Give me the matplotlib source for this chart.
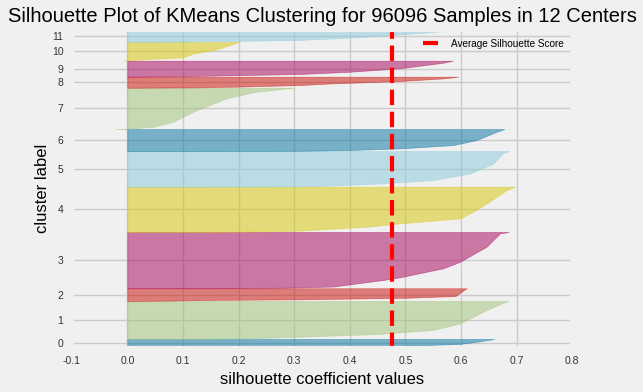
import numpy as np
import matplotlib.pyplot as plt

plt.style.use('fivethirtyeight')
plt.rcParams['font.family'] = 'sans-serif'
plt.rcParams['font.sans-serif'] = ['Liberation Sans', 'DejaVu Sans']

# data
n_samples = 96096
n_centers = 12
avg_score = 0.476
cluster_sizes = [2630, 11500, 3840, 17030, 13700, 10800,
                 6650, 12500, 3330, 4840, 5650, 3626]
palette = ["#0272a2", "#9fc377", "#ca0b03", "#a50258", "#d7c703", "#88cada"]

# sorted silhouette profile of each cluster:
# position in the band (0 = bottom, 1 = top) and the score there
fracs = [
    [0, 0.04, 0.1, 0.2, 0.43, 0.7, 0.9, 1],
    [0, 0.02, 0.06, 0.13, 0.24, 0.41, 0.76, 0.94, 1],
    [0, 0.03, 0.08, 0.13, 0.25, 0.39, 0.7, 1],
    [0, 0.01, 0.03, 0.147, 0.195, 0.355, 0.47, 0.74, 0.976, 1],
    [0, 0.01, 0.03, 0.117, 0.19, 0.30, 0.45, 0.63, 0.927, 1],
    [0, 0.005, 0.02, 0.095, 0.19, 0.37, 0.65, 0.95, 1],
    [0, 0.01, 0.045, 0.12, 0.27, 0.5, 0.88, 1],
    [0, 0.01, 0.055, 0.18, 0.3, 0.46, 0.62, 0.75, 0.9, 1],
    [0, 0.03, 0.1, 0.245, 0.40, 0.61, 0.85, 1],
    [0, 0.03, 0.1, 0.17, 0.31, 0.525, 0.875, 1],
    [0, 0.07, 0.18, 0.39, 0.57, 0.7, 0.9, 1],
    [0, 0.03, 0.08, 0.17, 0.44, 0.8, 1],
]
scores = [
    [0.0, 0.2, 0.38, 0.49, 0.598, 0.63, 0.65, 0.66],
    [0.1, 0.22, 0.31, 0.449, 0.55, 0.598, 0.646, 0.673, 0.685],
    [0.0, 0.08, 0.15, 0.31, 0.5, 0.59, 0.6, 0.61],
    [0.15, 0.28, 0.37, 0.46, 0.49, 0.568, 0.598, 0.646, 0.67, 0.686],
    [0.12, 0.22, 0.31, 0.43, 0.49, 0.598, 0.622, 0.646, 0.682, 0.697],
    [0.1, 0.25, 0.35, 0.46, 0.55, 0.616, 0.658, 0.676, 0.686],
    [0.1, 0.31, 0.40, 0.49, 0.586, 0.628, 0.664, 0.678],
    [-0.02, 0.0, 0.047, 0.083, 0.10, 0.125, 0.155, 0.18, 0.23, 0.30],
    [0.0, 0.12, 0.2, 0.31, 0.37, 0.49, 0.568, 0.595],
    [0.0, 0.1, 0.2, 0.31, 0.40, 0.49, 0.568, 0.585],
    [-0.005, 0.023, 0.10, 0.12, 0.155, 0.17, 0.19, 0.20],
    [0.0, 0.09, 0.18, 0.31, 0.43, 0.54, 0.59],
]

fig, ax = plt.subplots(figsize=(6.43, 3.92), dpi=100)
fig.subplots_adjust(left=0.1115, right=0.890, bottom=0.113, top=0.9235)

y_lower = 10
centers = []
for i, size in enumerate(cluster_sizes):
    y = y_lower + np.array(fracs[i]) * size
    color = palette[i % len(palette)]
    ax.fill_betweenx(y, 0, scores[i], facecolor=color, edgecolor=color,
                     alpha=0.5, linewidth=0.5)
    centers.append(y_lower + 0.5 * size)
    y_lower += size + 10

ax.axvline(x=avg_score, color='red', linestyle='--', linewidth=3,
           label='Average Silhouette Score')

ax.set_title("Silhouette Plot of KMeans Clustering for {} Samples in {} Centers"
             .format(n_samples, n_centers), fontsize=14.5, pad=6)
ax.set_xlim(-0.1, 0.8)
ax.set_ylim(0, y_lower)
ax.set_xticks(np.arange(-0.1, 0.81, 0.1))
ax.set_xticklabels(["-0.1", "0.0", "0.1", "0.2", "0.3", "0.4", "0.5", "0.6", "0.7", "0.8"])
ax.set_yticks(centers)
ax.set_yticklabels([str(i) for i in range(len(cluster_sizes))])
ax.tick_params(labelsize=7.5, pad=6, length=0, labelcolor='#333333')
ax.set_xlabel("silhouette coefficient values", fontsize=12, labelpad=4)
ax.set_ylabel("cluster label", fontsize=12, labelpad=1)
ax.legend(loc='upper right', frameon=False, fontsize=7.2, handlelength=1.5,
          handletextpad=1.3)

fig.savefig('out.png', dpi=100)
